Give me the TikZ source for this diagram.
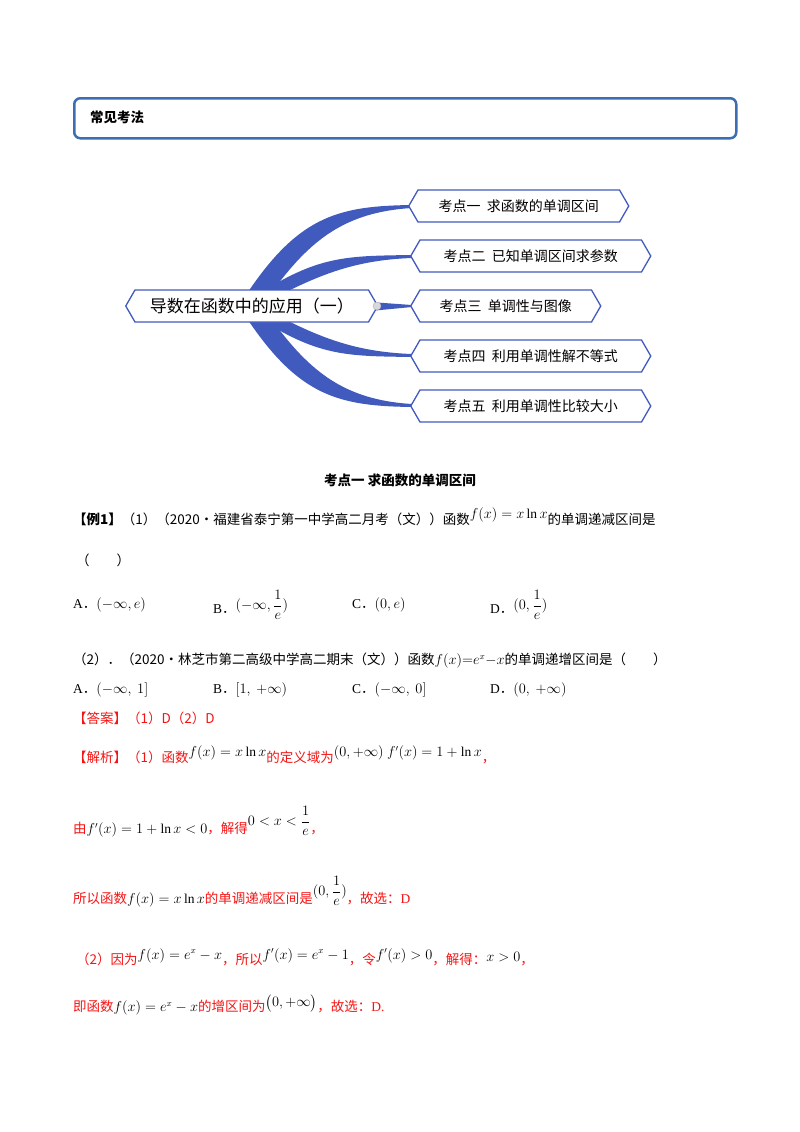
\documentclass[tikz,border=0pt]{standalone}
\usepackage{amsmath}
\usepackage{fontspec}
\setmainfont{Liberation Serif}
\newfontfamily\cjk{Noto Sans CJK SC}
\usetikzlibrary{shapes.symbols}
\definecolor{hb}{RGB}{60,110,180}
\definecolor{mb}{RGB}{65,90,190}
\definecolor{rd}{RGB}{245,20,20}
\begin{document}
\begin{tikzpicture}[x=1pt,y=-1pt,
  leaf/.style={draw=mb,line width=1.3pt,fill=white,signal,signal to=east and west,signal pointer angle=120,inner xsep=6pt,minimum height=32pt,anchor=west,font=\cjk\fontsize{14}{16}\selectfont},
  txt/.style={anchor=west,inner sep=0pt,font=\fontsize{13.5}{16}\selectfont},
  br/.style={fill=mb,draw=none}]
\useasboundingbox (0,0) rectangle (800,1132);
\node[draw=hb,line width=2.5pt,rounded corners=6pt,minimum width=662pt,minimum height=40pt,anchor=north west] (hdr) at (73,97) {};
\node[txt,font=\cjk\bfseries\fontsize{13.5}{16}\selectfont] (hdrt) at (90,117) {常见考法};
% branches
\fill[br] (248,292) .. controls (300,215) and (340,206) .. (412,205) -- (412,208) .. controls (345,212) and (310,240) .. (272,292) -- cycle;
\fill[br] (262,292) .. controls (320,255) and (350,256) .. (412,255) -- (412,258) .. controls (355,260) and (320,275) .. (280,295) -- cycle;
\fill[br] (370,302) -- (412,305) -- (412,307) -- (370,311) -- cycle;
\fill[br] (262,320) .. controls (320,357) and (350,356) .. (412,357) -- (412,354) .. controls (355,352) and (320,337) .. (280,317) -- cycle;
\fill[br] (248,320) .. controls (300,397) and (340,406) .. (412,407) -- (412,404) .. controls (345,400) and (310,372) .. (272,320) -- cycle;
\node[leaf,minimum width=252pt,font=\cjk\fontsize{17}{19}\selectfont] (c) at (125,306) {导数在函数中的应用（一）};
\fill[gray!30,draw=gray!60] (377,306) circle (4);
\node[leaf,minimum width=220pt] (k1) at (408,206) {考点一\ \ 求函数的单调区间};
\node[leaf,minimum width=240pt] (k2) at (410,256) {考点二\ \ 已知单调区间求参数};
\node[leaf,minimum width=190pt] (k3) at (410,306) {考点三\ \ 单调性与图像};
\node[leaf,minimum width=240pt] (k4) at (410,356) {考点四\ \ 利用单调性解不等式};
\node[leaf,minimum width=240pt] (k5) at (410,406) {考点五\ \ 利用单调性比较大小};
% body
\node[font=\cjk\bfseries\fontsize{13.5}{16}\selectfont] (t) at (400,480) {考点一\ 求函数的单调区间};
\node[txt] (l1) at (73,517) {{\cjk\bfseries 【例1】}{\cjk （1）（2020·福建省泰宁第一中学高二月考（文））函数}\raisebox{6pt}{$f(x)=x\ln x$}{\cjk 的单调递减区间是}};
\node[txt] (l2) at (76,560) {{\cjk （\qquad ）}};
\node[txt] (a1) at (73,605) {A{\cjk ．}$(-\infty,e)$};
\node[txt] (b1) at (213,605) {B{\cjk ．}\raisebox{4pt}{$(-\infty,\dfrac{1}{e})$}};
\node[txt] (c1) at (352,605) {C{\cjk ．}$(0,e)$};
\node[txt] (d1) at (490,605) {D{\cjk ．}\raisebox{4pt}{$(0,\dfrac{1}{e})$}};
\node[txt] (l3) at (73,661) {{\cjk （2）．（2020·林芝市第二高级中学高二期末（文））函数}$f(x){=}e^x{-}x${\cjk 的单调递增区间是（\qquad ）}};
\node[txt] (a2) at (73,690) {A{\cjk ．}$(-\infty,\ 1]$};
\node[txt] (b2) at (213,690) {B{\cjk ．}$[1,\ +\infty)$};
\node[txt] (c2) at (352,690) {C{\cjk ．}$(-\infty,\ 0]$};
\node[txt] (d2) at (490,690) {D{\cjk ．}$(0,\ +\infty)$};
\begin{scope}[every node/.append style={text=rd}]
\node[txt] (ans) at (73,718) {\cjk 【答案】（1）D（2）D};
\node[txt] (j1) at (73,755) {{\cjk 【解析】（1）函数}\raisebox{6pt}{\color{black}$f(x)=x\ln x$}{\cjk 的定义域为}\raisebox{6pt}{\color{black}$(0,+\infty)\ f'(x)=1+\ln x$}{\cjk ，}};
\node[txt] (j2) at (73,822) {{\cjk 由}{\color{black}$f'(x)=1+\ln x<0$}{\cjk ，解得}\raisebox{8pt}{\color{black}$0<x<\dfrac{1}{e}$}{\cjk ，}};
\node[txt] (j3) at (73,892) {{\cjk 所以函数}{\color{black}$f(x)=x\ln x$}{\cjk 的单调递减区间是}\raisebox{8pt}{\color{black}$(0,\dfrac{1}{e})$}{\cjk ，故选：}D};
\node[txt] (j4) at (76,957) {{\cjk （2）因为}\raisebox{5pt}{\color{black}$f(x)=e^x-x$}{\cjk ，所以}\raisebox{5pt}{\color{black}$f'(x)=e^x-1$}{\cjk ，令}\raisebox{5pt}{\color{black}$f'(x)>0$}{\cjk ，解得：}\raisebox{3pt}{\color{black}$x>0$}{\cjk ，}};
\node[txt] (j5) at (73,1005) {{\cjk 即函数}{\color{black}$f(x)=e^x-x$}{\cjk 的增区间为}\raisebox{5pt}{\color{black}$\bigl(0,+\infty\bigr)$}{\cjk ，故选：}D.};
\end{scope}
\end{tikzpicture}
\end{document}
